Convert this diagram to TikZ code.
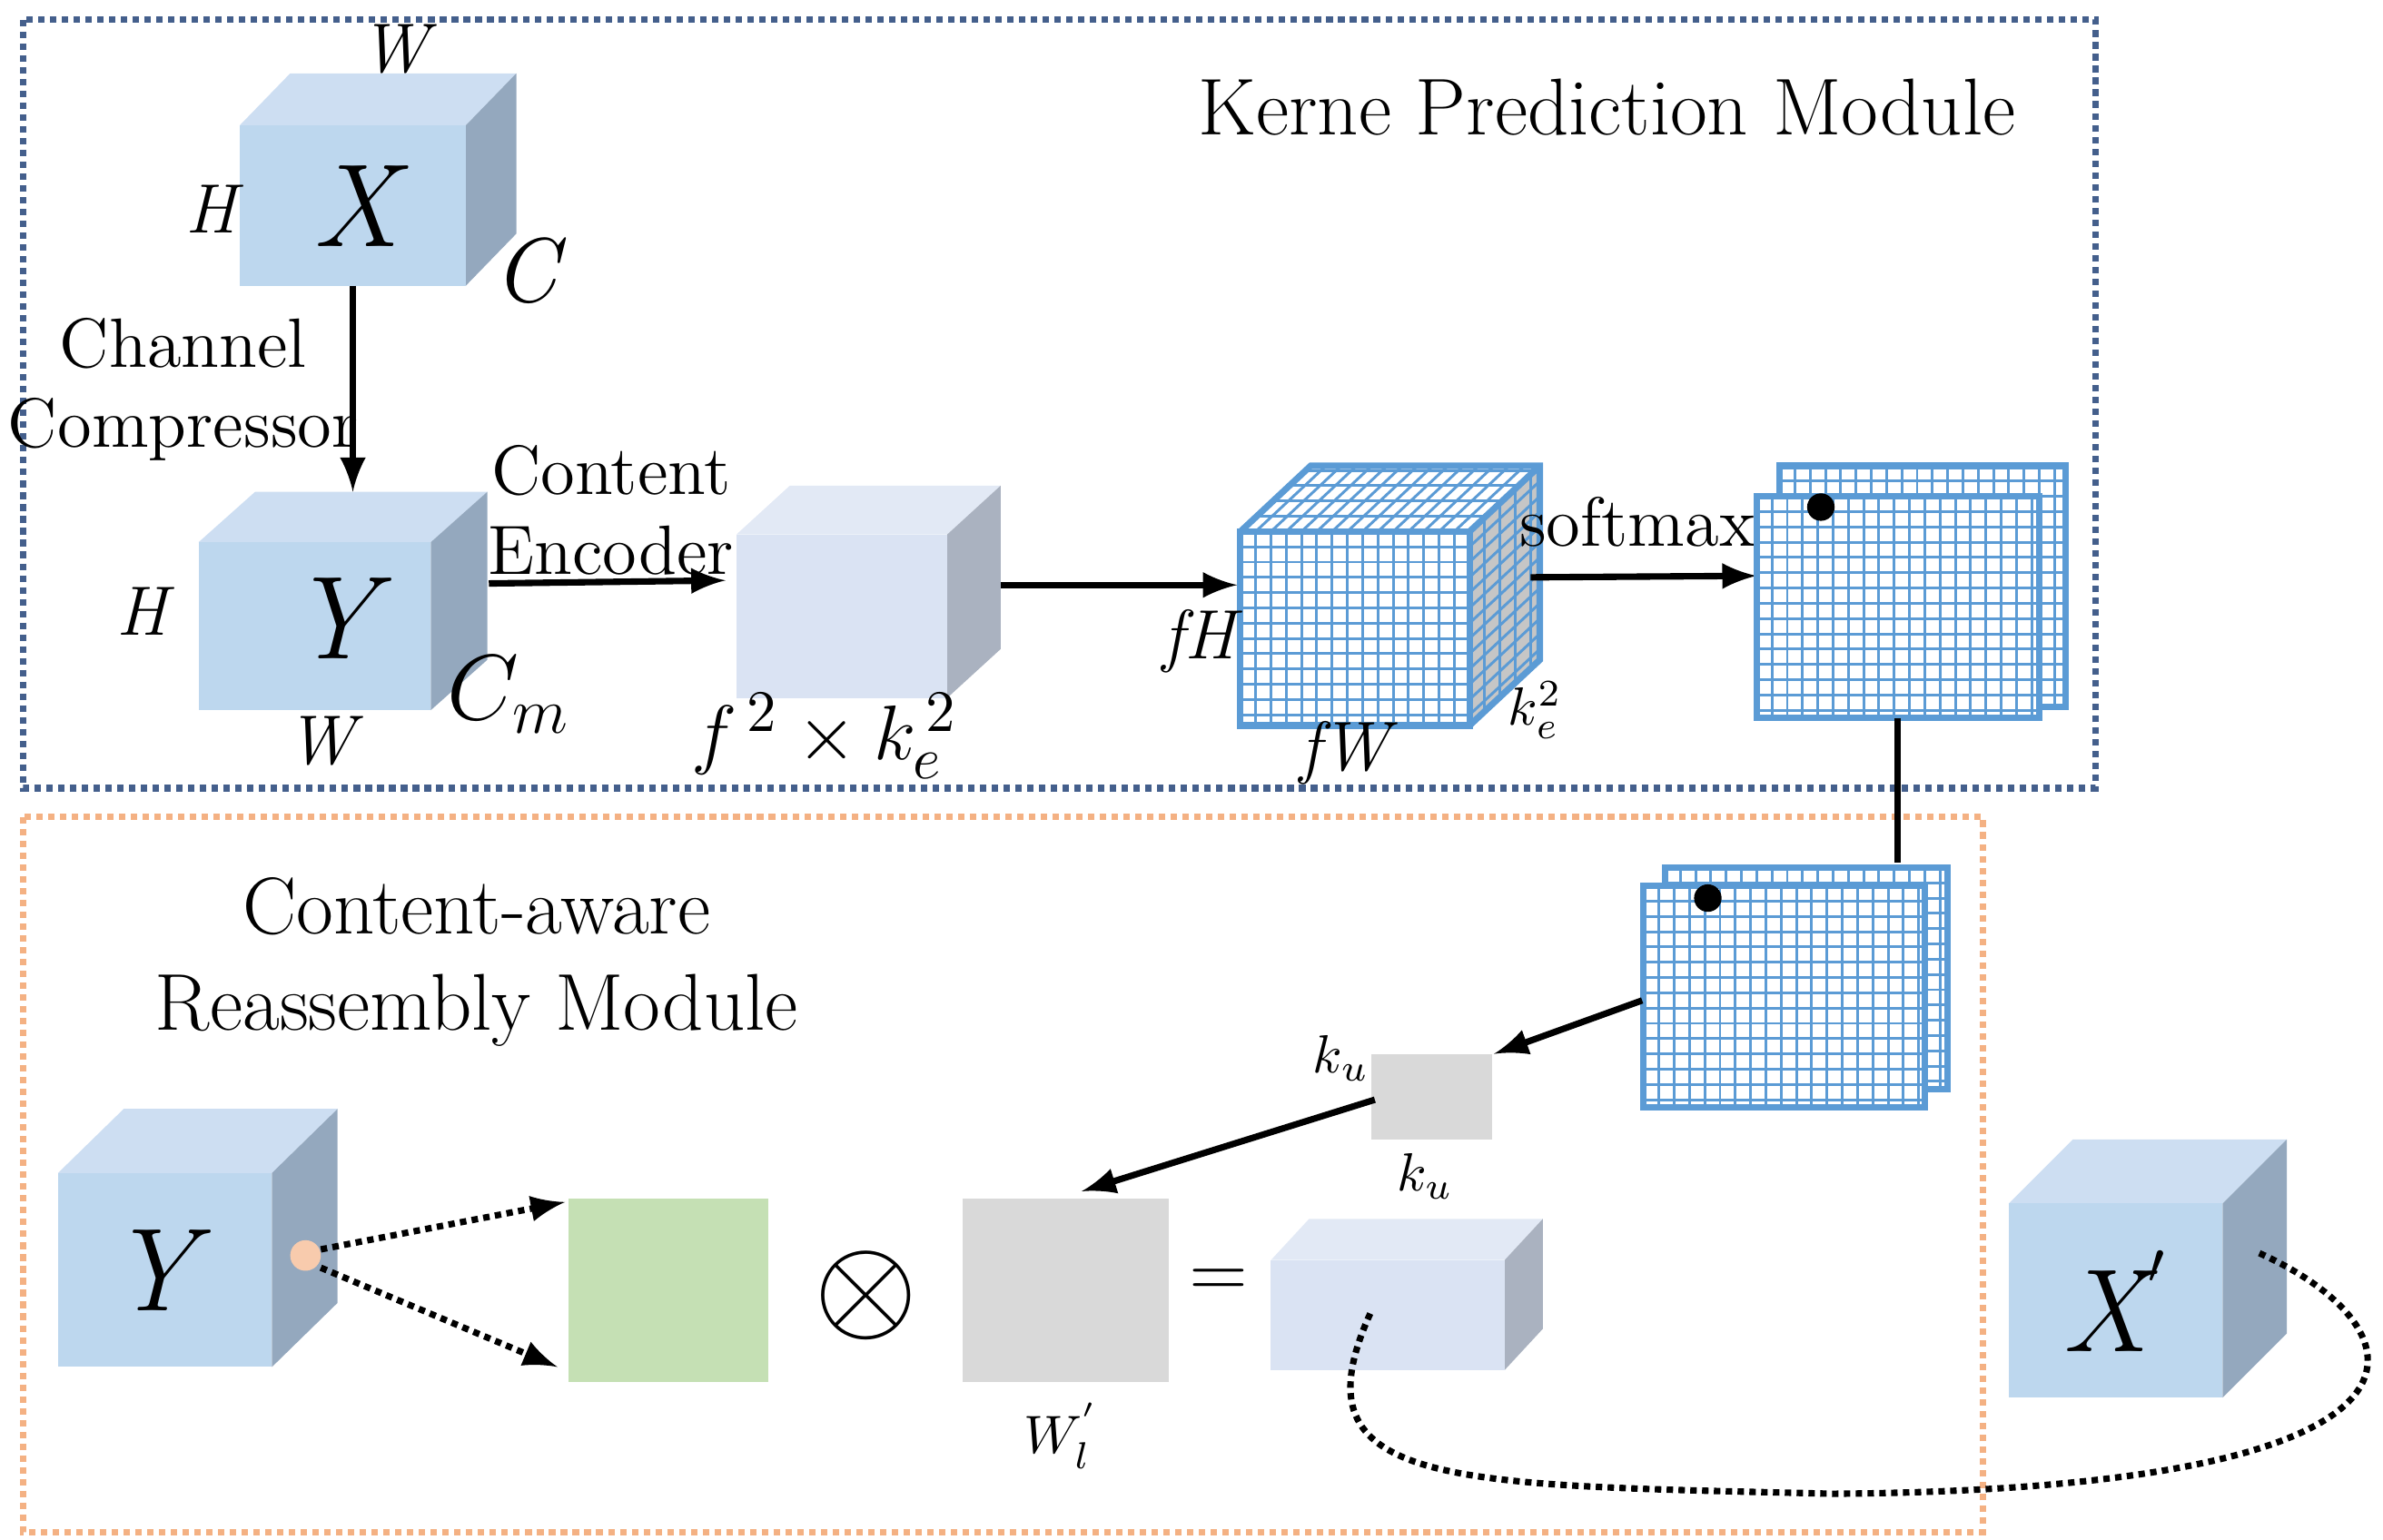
\documentclass[tikz,border=0pt]{standalone}
\usepackage{amssymb}
\definecolor{fb}{RGB}{189,215,238}
\definecolor{tb}{RGB}{205,222,242}
\definecolor{sb}{RGB}{148,168,190}
\definecolor{fl}{RGB}{218,227,243}
\definecolor{tl}{RGB}{226,233,245}
\definecolor{sl}{RGB}{170,178,192}
\definecolor{gblue}{RGB}{91,155,213}
\definecolor{bbox}{RGB}{68,95,140}
\definecolor{obox}{RGB}{244,177,131}
\definecolor{odot}{RGB}{248,203,173}
\definecolor{grn}{RGB}{197,224,180}
\newcommand\mycube[9]{%
 \fill[#9] (#1+#5,#2+#6) -- (#3+#5,#2+#6) -- (#3,#2) -- (#1,#2) -- cycle;
 \fill[#8] (#3,#2) -- (#3+#5,#2+#6) -- (#3+#5,#4+#6) -- (#3,#4) -- cycle;
 \fill[#7] (#1,#2) rectangle (#3,#4);}
\newcommand\mygrid[4]{%
 \fill[white] (#1,#2) rectangle (#3,#4);
 \begin{scope}\clip (#1,#2) rectangle (#3,#4);
 \foreach \i in {0,10,...,300}{\draw[gridc] (#1+\i,#2) -- (#1+\i,#4); \draw[gridc] (#1,#2+\i) -- (#3,#2+\i);}
 \end{scope}
 \draw[gridc,line width=1.2pt] (#1,#2) rectangle (#3,#4);}
\tikzset{
 gridc/.style={draw=gblue,line width=0.5pt},
 arr/.style={-latex,line width=1.2pt},
 lab/.style={font=\fontsize{13}{15}\selectfont},
 mi/.style={font=\fontsize{13}{15}\selectfont\itshape},
 big/.style={font=\fontsize{22}{24}\selectfont\itshape}}
\begin{document}
\begin{tikzpicture}[x=0.01cm,y=-0.01cm]
\useasboundingbox (0,0) rectangle (1560,1008);
\draw[densely dotted,line width=1.2pt,bbox] (15,13) rectangle (1372,516);
\draw[densely dotted,line width=1.2pt,obox] (15,535) rectangle (1298,1003);
\node[font=\fontsize{15}{18}\selectfont] (t1) at (1052,70) {Kerne Prediction Module};
\node[font=\fontsize{15}{18}\selectfont,align=center] (t2) at (312,630) {Content-aware\\Reassembly Module};
% X cube
\mycube{157}{82}{305}{187}{33}{-34}{fb}{sb}{tb}
\node[big] (X) at (233,135) {X};
\node[mi] at (258,32) {W}; \node[mi] at (138,137) {H}; \node[font=\fontsize{17}{19}\selectfont\itshape] at (344,177) {C};
\coordinate (xa) at (231,187); \coordinate (ya) at (231,322);
\draw[arr] (xa) -- (ya);
\node[lab,align=center] at (120,255) {Channel\\Compressor};
% Y cube
\mycube{130}{355}{282}{465}{37}{-33}{fb}{sb}{tb}
\node[big] (Y) at (218,405) {Y};
\node[mi] at (93,400) {H}; \node[mi] at (210,485) {W};
\node[font=\fontsize{17}{19}\selectfont] at (333,455) {$C_m$};
\coordinate (y1) at (320,382); \coordinate (e1) at (475,380);
\draw[arr] (y1) -- (e1);
\node[lab,align=center] at (400,334) {Content\\Encoder};
% encoded cube
\mycube{482}{350}{620}{457}{35}{-32}{fl}{sl}{tl}
\node[font=\fontsize{15}{17}\selectfont] at (540,482) {$f^{\,2}\times k_e^{\,2}$};
\coordinate (e2) at (655,383); \coordinate (g1) at (810,383);
\draw[arr] (e2) -- (g1);
% grid cube
\fill[white] (812,348) -- (858,305) -- (1008,305) -- (1008,432) -- (962,475) -- (812,475) -- cycle;
\begin{scope}
\clip (812,348) -- (858,305) -- (1008,305) -- (962,348) -- cycle;
\foreach \i in {0,10,...,200}{\draw[gridc] (812+\i,348) -- (858+\i,305);}
\foreach \j in {0,10,...,40}{\draw[gridc] (812,348-\j) -- (1008,348-\j);}
\end{scope}
\fill[gray!45] (962,348) -- (1008,305) -- (1008,432) -- (962,475) -- cycle;
\begin{scope}
\clip (962,348) -- (1008,305) -- (1008,432) -- (962,475) -- cycle;
\foreach \j in {0,10,...,170}{\draw[gridc] (962,348+\j) -- (1008,305+\j);}
\foreach \i in {0,10,...,40}{\draw[gridc] (962+\i,300) -- (962+\i,480);}
\end{scope}
\draw[gridc,line width=1.2pt] (812,348) -- (858,305) -- (1008,305) -- (1008,432) -- (962,475) (962,348) -- (1008,305);
\mygrid{812}{348}{962}{475}
\node[mi] at (785,420) {fH}; \node[mi] at (880,493) {fW};
\node at (1005,465) {$k_e^2$};
\coordinate (g2) at (1002,378); \coordinate (s1) at (1150,377);
\draw[arr] (g2) -- (s1);
\node[lab] at (1072,342) {softmax};
% softmax sheets
\mygrid{1165}{305}{1352}{463}
\mygrid{1150}{325}{1335}{470}
\fill (1192,332) circle (9);
\coordinate (s2) at (1242,470); \coordinate (s3) at (1242,565);
\draw[line width=1.2pt] (s2) -- (s3);
\mygrid{1090}{568}{1275}{713}
\mygrid{1076}{580}{1260}{725}
\fill (1118,588) circle (9);
\coordinate (s4) at (1075,655); \coordinate (k1) at (978,690);
\draw[arr] (s4) -- (k1);
\fill[gray!30] (898,690) rectangle (977,746);
\node (ku) at (878,693) {$k_u$}; \node at (933,770) {$k_u$};
\coordinate (k2) at (900,720); \coordinate (w1) at (708,780);
\draw[arr] (k2) -- (w1);
% bottom row
\mycube{38}{768}{178}{895}{43}{-42}{fb}{sb}{tb}
\node[big] (Y2) at (100,832) {Y};
\fill[odot] (200,822) circle (10);
\coordinate (p1) at (210,818); \coordinate (p2) at (210,830);
\coordinate (q1) at (370,787); \coordinate (q2) at (365,895);
\draw[arr,densely dotted] (p1) -- (q1);
\draw[arr,densely dotted] (p2) -- (q2);
\fill[grn] (372,785) rectangle (503,905);
\node[font=\fontsize{30}{30}\selectfont] (ot) at (567,848) {$\otimes$};
\fill[gray!30] (630,785) rectangle (765,905);
\node at (695,940) {$W_l^{'}$};
\node[font=\fontsize{15}{15}\selectfont] at (798,840) {$=$};
\mycube{832}{825}{985}{897}{25}{-27}{fl}{sl}{tl}
\mycube{1315}{788}{1455}{915}{42}{-42}{fb}{sb}{tb}
\node[big] (Xp) at (1385,852) {X$^{'}$};
\coordinate (c1) at (897,860); \coordinate (c2) at (1478,820);
\draw[densely dotted,line width=1.2pt] (c1) .. controls (845,975) and (950,972) .. (1200,978) .. controls (1620,975) and (1590,870) .. (c2);
\end{tikzpicture}
\end{document}
